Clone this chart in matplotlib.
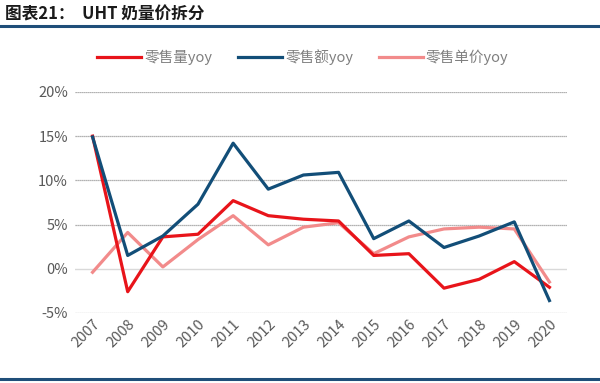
import matplotlib.pyplot as plt
from matplotlib.lines import Line2D

plt.rcParams['font.family'] = ['Noto Sans CJK SC', 'DejaVu Sans']

years = ['2007', '2008', '2009', '2010', '2011', '2012', '2013',
         '2014', '2015', '2016', '2017', '2018', '2019', '2020']
volume_yoy = [15.0, -2.6, 3.6, 3.9, 7.7, 6.0, 5.6, 5.4, 1.5, 1.7, -2.2, -1.2, 0.8, -2.1]
sales_yoy = [14.9, 1.5, 3.7, 7.3, 14.2, 9.0, 10.6, 10.9, 3.4, 5.4, 2.4, 3.7, 5.3, -3.6]
price_yoy = [-0.4, 4.1, 0.2, 3.3, 6.0, 2.7, 4.7, 5.2, 1.7, 3.6, 4.5, 4.7, 4.5, -1.5]

fig = plt.figure(figsize=(6, 3.83), dpi=100)
ax = fig.add_axes([0.125, 0.183, 0.82, 0.577])

x = list(range(len(years)))
ax.plot(x, volume_yoy, color='#E8141A', lw=2.3, label='零售量yoy', zorder=3)
ax.plot(x, sales_yoy, color='#124E78', lw=2.3, label='零售额yoy', zorder=4)
ax.plot(x, price_yoy, color='#F28B8B', lw=2.3, label='零售单价yoy', zorder=2)

ax.set_xlim(-0.5, 13.5)
ax.set_ylim(-5, 20)
ax.set_yticks([-5, 0, 5, 10, 15, 20])
ax.set_yticklabels(['-5%', '0%', '5%', '10%', '15%', '20%'])
for v in [-5, 5, 10, 15, 20]:
    ax.axhline(v, color='#999999', lw=0.9, ls=(0, (1, 0.6)), zorder=1)
ax.axhline(0, color='#d9d9d9', lw=1.0, zorder=1)

ax.set_xticks(x)
ax.set_xticklabels(years, rotation=45, ha='right', rotation_mode='anchor')
ax.tick_params(axis='both', length=0, labelsize=10.5, colors='#595959', pad=5)
ax.tick_params(axis='x', pad=3)
for s in ax.spines.values():
    s.set_visible(False)

handles = [Line2D([], [], color='#E8141A', lw=2.3),
           Line2D([], [], color='#124E78', lw=2.3),
           Line2D([], [], color='#F28B8B', lw=2.3)]
fig.legend(handles, ['零售量yoy', '零售额yoy', '零售单价yoy'], loc='center',
           bbox_to_anchor=(0.505, 0.85), ncol=3, frameon=False, fontsize=10.5,
           labelcolor='#7f7f7f', handlelength=3.0, columnspacing=1.8, handletextpad=0.2)

fig.text(0.008, 0.962, '图表21：  UHT 奶量价拆分', fontsize=12, fontweight='bold',
         color='#1a1a1a', va='center', ha='left')
fig.add_artist(Line2D([0.0, 1.0], [0.932, 0.932], color='#1F4E79', lw=2.2))
fig.add_artist(Line2D([0.0, 1.0], [0.01, 0.01], color='#1F4E79', lw=2.2))

fig.savefig('out.png', dpi=100)
